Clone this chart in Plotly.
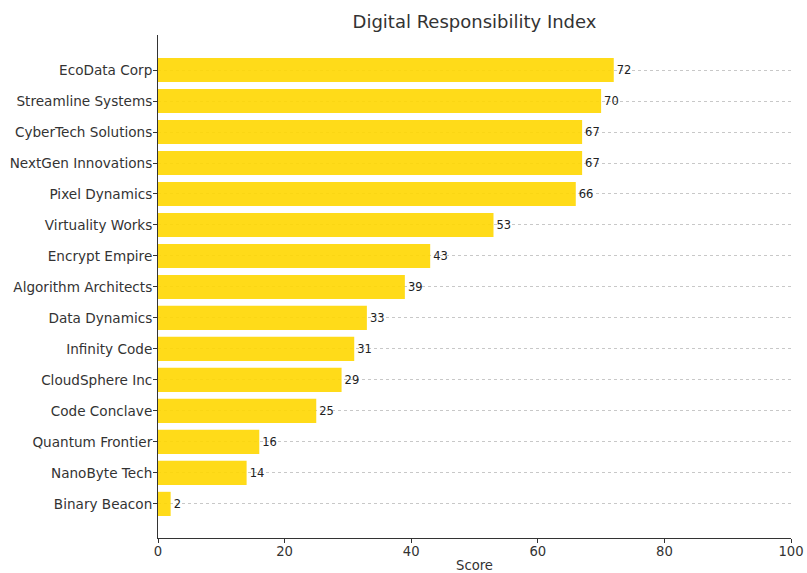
import plotly.graph_objects as go

companies = ["EcoData Corp", "Streamline Systems", "CyberTech Solutions", "NextGen Innovations",
             "Pixel Dynamics", "Virtuality Works", "Encrypt Empire", "Algorithm Architects",
             "Data Dynamics", "Infinity Code", "CloudSphere Inc", "Code Conclave",
             "Quantum Frontier", "NanoByte Tech", "Binary Beacon"]
scores = [72, 70, 67, 67, 66, 53, 43, 39, 33, 31, 29, 25, 16, 14, 2]

# bottom-to-top order for plotting
cats = companies[::-1]
vals = scores[::-1]

font_family = "DejaVu Sans"

fig = go.Figure(go.Bar(
    x=vals, y=cats, orientation="h",
    marker=dict(color="rgba(255,215,0,0.9)", line=dict(width=0)),
    width=0.78,
    text=[str(v) for v in vals],
    textposition="outside",
    textfont=dict(family=font_family, size=11.5, color="#222"),
    cliponaxis=False,
))

fig.update_layout(
    width=807, height=573,
    margin=dict(l=158, r=16, t=35, b=35, autoexpand=False),
    paper_bgcolor="white", plot_bgcolor="white",
    title=dict(text="Digital Responsibility Index", x=474.5 / 807,
               xanchor="center", y=1 - 22 / 573, yanchor="middle",
               font=dict(family=font_family, size=18, color="#333")),
    showlegend=False,
)

fig.update_xaxes(
    range=[0, 100], tickvals=[0, 20, 40, 60, 80, 100],
    showgrid=False, zeroline=False, automargin=False,
    showline=True, linecolor="#333", linewidth=1,
    ticks="outside", ticklen=4, tickcolor="#333",
    ticklabelstandoff=-3,
    tickfont=dict(family=font_family, size=13.2, color="#333"),
    title=dict(text="Score", font=dict(family=font_family, size=13.2, color="#333"), standoff=4),
)

fig.update_yaxes(
    categoryorder="array", categoryarray=cats,
    range=[-1.1, 14 + 1.13], automargin=False,
    showgrid=True, gridcolor="#c8c8c8", griddash="dot", gridwidth=1,
    zeroline=False,
    showline=True, linecolor="#333", linewidth=1,
    ticks="outside", ticklen=4, tickcolor="#333",
    ticklabelstandoff=-2,
    tickfont=dict(family=font_family, size=13.6, color="#333"),
)

fig.write_html("out.html")
